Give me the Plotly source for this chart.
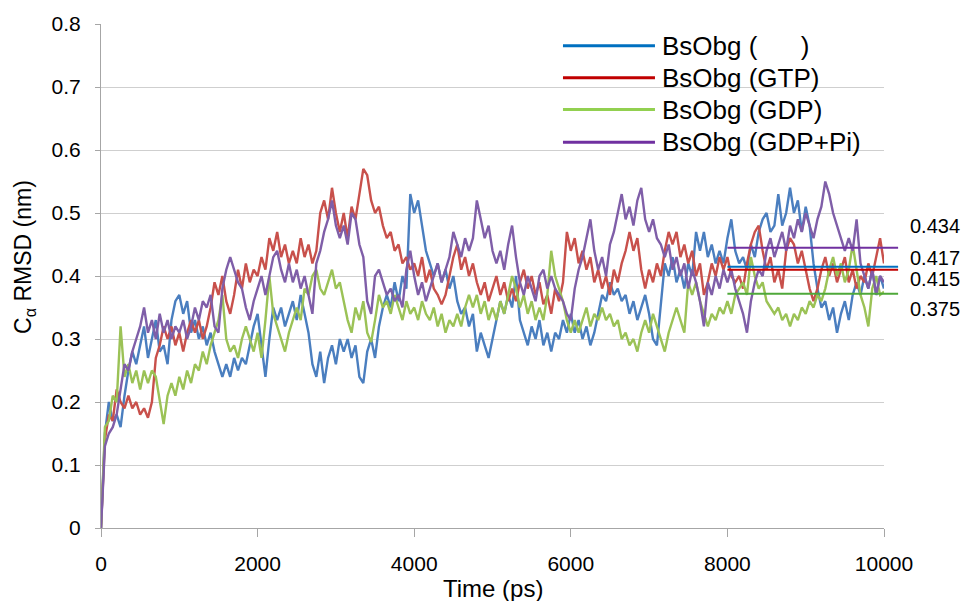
import numpy as np
import plotly.graph_objects as go

# ---------------- data ----------------
time_ps = np.arange(0, 10001, 50)

series_names = ["BsObg (      )", "BsObg (GTP)", "BsObg (GDP)", "BsObg (GDP+Pi)"]

rmsd_apo = [
    0.0, 0.15, 0.20, 0.17, 0.18, 0.16, 0.21, 0.25, 0.28, 0.26, 0.29, 0.32, 0.27, 0.30, 0.33, 0.28, 0.29, 0.26, 0.33, 0.36,
    0.37, 0.34, 0.36, 0.31, 0.33, 0.30, 0.32, 0.29, 0.31, 0.28, 0.26, 0.24, 0.26, 0.24, 0.27, 0.25, 0.27, 0.26, 0.29, 0.32,
    0.34, 0.29, 0.24, 0.30, 0.35, 0.33, 0.35, 0.32, 0.34, 0.36, 0.33, 0.37, 0.34, 0.31, 0.26, 0.24, 0.28, 0.23, 0.27, 0.29,
    0.26, 0.30, 0.28, 0.30, 0.27, 0.29, 0.24, 0.23, 0.28, 0.30, 0.27, 0.32, 0.35, 0.37, 0.35, 0.39, 0.36, 0.40, 0.38, 0.53,
    0.50, 0.52, 0.48, 0.44, 0.42, 0.40, 0.42, 0.39, 0.41, 0.38, 0.40, 0.36, 0.34, 0.35, 0.32, 0.34, 0.28, 0.31, 0.29, 0.27,
    0.30, 0.33, 0.36, 0.34, 0.37, 0.35, 0.40, 0.33, 0.31, 0.29, 0.32, 0.30, 0.33, 0.29, 0.31, 0.28, 0.31, 0.30, 0.33, 0.31,
    0.34, 0.31, 0.33, 0.30, 0.32, 0.29, 0.31, 0.34, 0.37, 0.36, 0.39, 0.37, 0.38, 0.36, 0.37, 0.34, 0.36, 0.33, 0.35, 0.37,
    0.34, 0.30, 0.29, 0.36, 0.42, 0.40, 0.43, 0.39, 0.41, 0.38, 0.42, 0.40, 0.47, 0.44, 0.47, 0.43, 0.45, 0.42, 0.44, 0.42,
    0.46, 0.49, 0.44, 0.42, 0.43, 0.41, 0.45, 0.43, 0.47, 0.49, 0.50, 0.47, 0.48, 0.53, 0.48, 0.50, 0.54, 0.50, 0.52, 0.47,
    0.51, 0.48, 0.42, 0.38, 0.35, 0.36, 0.33, 0.35, 0.31, 0.34, 0.36, 0.33, 0.37, 0.39, 0.37, 0.40, 0.38, 0.41, 0.37, 0.40,
    0.38,
]

rmsd_gtp = [
    0.0, 0.14, 0.18, 0.17, 0.22, 0.20, 0.19, 0.21, 0.19, 0.20, 0.18, 0.19, 0.175, 0.20, 0.27, 0.29, 0.32, 0.30, 0.32, 0.29,
    0.31, 0.28, 0.31, 0.33, 0.31, 0.33, 0.30, 0.32, 0.35, 0.39, 0.37, 0.40, 0.36, 0.34, 0.37, 0.41, 0.38, 0.42, 0.39, 0.41,
    0.40, 0.43, 0.41, 0.46, 0.44, 0.47, 0.43, 0.45, 0.42, 0.44, 0.42, 0.46, 0.43, 0.45, 0.42, 0.44, 0.50, 0.52, 0.49, 0.54,
    0.50, 0.47, 0.50, 0.46, 0.51, 0.49, 0.53, 0.57, 0.56, 0.52, 0.50, 0.51, 0.48, 0.46, 0.47, 0.44, 0.45, 0.42, 0.43, 0.41,
    0.42, 0.40, 0.43, 0.39, 0.41, 0.38, 0.37, 0.355, 0.37, 0.40, 0.43, 0.45, 0.41, 0.43, 0.40, 0.42, 0.39, 0.37, 0.39, 0.36,
    0.38, 0.40, 0.37, 0.39, 0.36, 0.38, 0.36, 0.39, 0.41, 0.38, 0.40, 0.37, 0.39, 0.355, 0.37, 0.34, 0.38, 0.36, 0.39, 0.47,
    0.44, 0.46, 0.42, 0.44, 0.41, 0.43, 0.39, 0.41, 0.38, 0.40, 0.37, 0.41, 0.39, 0.42, 0.44, 0.47, 0.44, 0.46, 0.41, 0.38,
    0.41, 0.39, 0.42, 0.40, 0.44, 0.47, 0.45, 0.47, 0.43, 0.45, 0.42, 0.44, 0.40, 0.42, 0.37, 0.39, 0.42, 0.40, 0.43, 0.41,
    0.43, 0.40, 0.39, 0.40, 0.38, 0.42, 0.45, 0.47, 0.48, 0.44, 0.41, 0.43, 0.39, 0.41, 0.38, 0.44, 0.46, 0.45, 0.42, 0.44,
    0.41, 0.38, 0.36, 0.38, 0.41, 0.43, 0.40, 0.42, 0.39, 0.41, 0.43, 0.39, 0.41, 0.38, 0.40, 0.39, 0.42, 0.40, 0.43, 0.46,
    0.42,
]

rmsd_gdp = [
    0.0, 0.16, 0.17, 0.21, 0.20, 0.32, 0.24, 0.26, 0.23, 0.25, 0.22, 0.25, 0.23, 0.25, 0.24, 0.20, 0.165, 0.21, 0.23, 0.21,
    0.24, 0.22, 0.25, 0.23, 0.26, 0.25, 0.28, 0.26, 0.29, 0.31, 0.33, 0.37, 0.30, 0.28, 0.29, 0.27, 0.30, 0.32, 0.30, 0.28,
    0.31, 0.27, 0.33, 0.40, 0.34, 0.32, 0.30, 0.28, 0.31, 0.33, 0.35, 0.33, 0.38, 0.37, 0.40, 0.41, 0.38, 0.37, 0.39, 0.41,
    0.38, 0.39, 0.36, 0.33, 0.31, 0.35, 0.33, 0.36, 0.31, 0.295, 0.33, 0.37, 0.35, 0.36, 0.34, 0.37, 0.35, 0.33, 0.36, 0.34,
    0.35, 0.33, 0.36, 0.34, 0.33, 0.35, 0.32, 0.34, 0.31, 0.33, 0.32, 0.34, 0.32, 0.35, 0.37, 0.35, 0.37, 0.34, 0.36, 0.33,
    0.35, 0.33, 0.36, 0.34, 0.37, 0.40, 0.38, 0.35, 0.37, 0.34, 0.36, 0.33, 0.35, 0.33, 0.37, 0.44, 0.40, 0.38, 0.36, 0.33,
    0.31, 0.33, 0.31, 0.33, 0.35, 0.32, 0.34, 0.33, 0.35, 0.33, 0.34, 0.32, 0.33, 0.30, 0.31, 0.29, 0.30, 0.28, 0.31, 0.33,
    0.31, 0.34, 0.32, 0.30, 0.28, 0.31, 0.33, 0.35, 0.33, 0.31, 0.39, 0.37, 0.39, 0.36, 0.34, 0.32, 0.34, 0.33, 0.35, 0.34,
    0.36, 0.34, 0.37, 0.38, 0.39, 0.37, 0.43, 0.40, 0.38, 0.39, 0.36, 0.35, 0.34, 0.35, 0.33, 0.34, 0.32, 0.34, 0.33, 0.35,
    0.34, 0.36, 0.35, 0.37, 0.36, 0.38, 0.41, 0.43, 0.40, 0.42, 0.39, 0.41, 0.45, 0.41, 0.37, 0.35, 0.32, 0.38, 0.40, 0.37,
    0.375,
]

rmsd_gdp_pi = [
    0.0, 0.13, 0.15, 0.16, 0.18, 0.22, 0.26, 0.25, 0.28, 0.30, 0.32, 0.35, 0.31, 0.33, 0.30, 0.34, 0.31, 0.33, 0.30, 0.32,
    0.31, 0.33, 0.30, 0.32, 0.35, 0.33, 0.36, 0.35, 0.37, 0.32, 0.31, 0.38, 0.41, 0.43, 0.41, 0.39, 0.38, 0.35, 0.33, 0.36,
    0.38, 0.40, 0.37, 0.40, 0.43, 0.44, 0.41, 0.39, 0.42, 0.39, 0.41, 0.38, 0.40, 0.37, 0.34, 0.42, 0.44, 0.47, 0.49, 0.52,
    0.48, 0.46, 0.48, 0.45, 0.50, 0.49, 0.45, 0.43, 0.36, 0.34, 0.40, 0.41, 0.39, 0.37, 0.38, 0.36, 0.37, 0.35, 0.41, 0.44,
    0.40, 0.37, 0.39, 0.36, 0.38, 0.40, 0.42, 0.39, 0.41, 0.43, 0.47, 0.45, 0.43, 0.46, 0.44, 0.46, 0.52, 0.49, 0.46, 0.48,
    0.44, 0.42, 0.44, 0.41, 0.45, 0.48, 0.43, 0.39, 0.37, 0.40, 0.38, 0.36, 0.40, 0.41, 0.38, 0.40, 0.38, 0.37, 0.36, 0.34,
    0.33, 0.38, 0.41, 0.43, 0.46, 0.49, 0.44, 0.41, 0.43, 0.40, 0.45, 0.47, 0.50, 0.53, 0.49, 0.51, 0.48, 0.52, 0.54, 0.49,
    0.47, 0.49, 0.46, 0.45, 0.43, 0.45, 0.41, 0.43, 0.40, 0.42, 0.38, 0.41, 0.39, 0.36, 0.32, 0.39, 0.37, 0.40, 0.38, 0.41,
    0.39, 0.41, 0.38, 0.36, 0.34, 0.31, 0.36, 0.39, 0.41, 0.40, 0.44, 0.46, 0.43, 0.45, 0.47, 0.44, 0.48, 0.46, 0.49, 0.47,
    0.50, 0.48, 0.46, 0.49, 0.51, 0.55, 0.53, 0.50, 0.48, 0.46, 0.44, 0.46, 0.44, 0.49, 0.42, 0.40, 0.38, 0.41, 0.37, 0.40,
    0.39,
]

# averages over the last 2 ns (lines drawn from 8000 ps to just past the axis end)
mean_labels = ["0.434", "0.417", "0.415", "0.375"]
mean_line_values = [0.445, 0.4145, 0.410, 0.372]   # drawn heights (purple, blue, red, green)
mean_start_ps = 8000
mean_end_ps = 10180

x_ticks = [0, 2000, 4000, 6000, 8000, 10000]
x_tick_text = ["0", "2000", "4000", "6000", "8000", "10000"]
y_range = [0, 0.8]
x_range = [0, 10000]

# ---------------- styling ----------------
trace_colors = ["#4A7EBF", "#C8504B", "#9BC256", "#7F5EA8"]
legend_colors = ["#0070C0", "#C00000", "#92D050", "#7030A0"]
mean_colors = ["#7030A0", "#0070C0", "#C00000", "#4FA83A"]
label_heights = [0.480, 0.428, 0.396, 0.348]   # where the value labels sit (y units)
FONT = "Liberation Sans, Arial, sans-serif"

fig = go.Figure()
for name, vals, col in zip(series_names, [rmsd_apo, rmsd_gtp, rmsd_gdp, rmsd_gdp_pi], trace_colors):
    fig.add_trace(go.Scatter(x=time_ps, y=vals, mode="lines", name=name,
                             line=dict(color=col, width=2.4), showlegend=False))

def xp(t):
    return (t - x_range[0]) / (x_range[1] - x_range[0])

def yp(v):
    return (v - y_range[0]) / (y_range[1] - y_range[0])

shapes = []
annotations = []
# mean lines + labels
for v, lab, col, lh in zip(mean_line_values, mean_labels, mean_colors, label_heights):
    shapes.append(dict(type="line", xref="paper", yref="paper",
                       x0=xp(mean_start_ps), x1=xp(mean_end_ps), y0=yp(v), y1=yp(v),
                       line=dict(color=col, width=2)))
    annotations.append(dict(xref="paper", yref="paper", x=1.031, y=yp(lh),
                            text=lab, showarrow=False, xanchor="left", yanchor="middle",
                            font=dict(family=FONT, size=20, color="#000000")))

# custom legend (long line samples)
legend_rows_y = [0.9566, 0.8934, 0.8303, 0.7652]
for name, col, ry in zip(series_names, legend_colors, legend_rows_y):
    shapes.append(dict(type="line", xref="paper", yref="paper",
                       x0=0.590, x1=0.7075, y0=ry, y1=ry,
                       line=dict(color=col, width=3)))
    annotations.append(dict(xref="paper", yref="paper", x=0.714, y=ry, text=name,
                            showarrow=False, xanchor="left", yanchor="middle",
                            font=dict(family=FONT, size=26, color="#000000")))

# axis titles
annotations.append(dict(xref="paper", yref="paper", x=0.5, y=-0.121, text="Time (ps)",
                        showarrow=False, xanchor="center", yanchor="middle",
                        font=dict(family=FONT, size=24, color="#000000")))
annotations.append(dict(xref="paper", yref="paper", x=-0.097, y=0.538,
                        text="C<sub>α</sub> RMSD (nm)", textangle=-90,
                        showarrow=False, xanchor="center", yanchor="middle",
                        font=dict(family=FONT, size=23, color="#000000")))

fig.update_layout(
    width=976, height=601,
    margin=dict(l=101, r=92, t=21, b=73),
    paper_bgcolor="white", plot_bgcolor="white",
    showlegend=False,
    shapes=shapes, annotations=annotations,
    font=dict(family=FONT, color="#000000"),
)
fig.update_xaxes(range=x_range, tickvals=x_ticks, ticktext=x_tick_text,
                 showgrid=False, zeroline=False,
                 showline=True, linecolor="#A6A6A6", linewidth=1,
                 ticks="outside", ticklen=8, tickcolor="#A6A6A6",
                 ticklabelstandoff=9,
                 tickfont=dict(family=FONT, size=21, color="#000000"))
fig.update_yaxes(range=y_range, dtick=0.1, tick0=0, showgrid=True, gridcolor="#CFCFCF",
                 gridwidth=1, zeroline=False,
                 showline=True, linecolor="#A6A6A6", linewidth=1,
                 ticks="outside", ticklen=5, tickcolor="#A6A6A6",
                 ticklabelstandoff=10,
                 tickfont=dict(family=FONT, size=21, color="#000000"))

fig.write_html("out.html", config={"displayModeBar": False},
               post_script="document.body.style.margin='0';document.body.style.overflow='hidden';")
